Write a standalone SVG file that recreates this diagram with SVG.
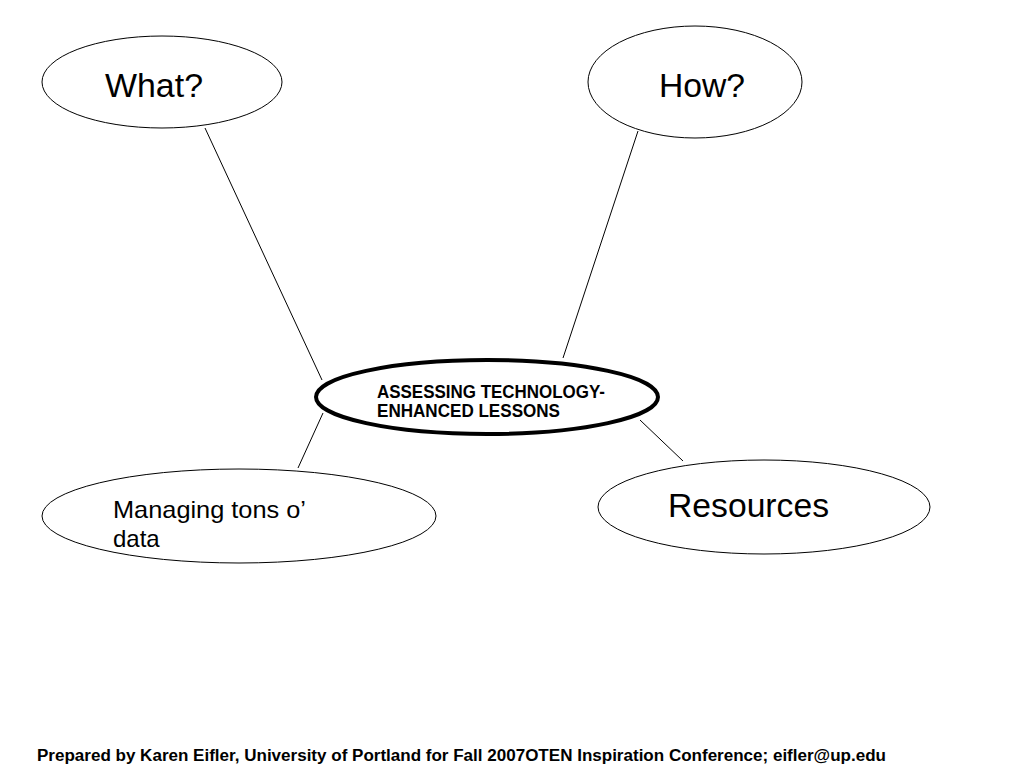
<svg xmlns="http://www.w3.org/2000/svg" width="1024" height="768" viewBox="0 0 1024 768">
<style>
.node{fill:#fff;stroke:#000;stroke-width:1}
.main{fill:#fff;stroke:#000;stroke-width:4}
.t{font-family:"Liberation Sans",Arial,sans-serif;fill:#000}
.c line{stroke:#000;stroke-width:1}
</style>
<rect width="1024" height="768" fill="#fff"/>
<g class="c" id="connectors">
<line x1="205" y1="128" x2="322" y2="380"/>
<line x1="638" y1="131" x2="563" y2="358"/>
<line x1="323" y1="413" x2="298" y2="468"/>
<line x1="640" y1="420" x2="683" y2="461"/>
</g>
<g id="what">
<ellipse class="node" cx="162" cy="82" rx="120" ry="46"/>
<text class="t" x="105" y="97" font-size="33" textLength="98" lengthAdjust="spacingAndGlyphs">What?</text>
</g>
<g id="how">
<ellipse class="node" cx="695" cy="82" rx="107" ry="56"/>
<text class="t" x="659" y="97" font-size="33" textLength="86" lengthAdjust="spacingAndGlyphs">How?</text>
</g>
<g id="central">
<ellipse class="main" cx="487" cy="397" rx="171" ry="37"/>
<text class="t" x="377" y="398" font-size="17.5" font-weight="bold" textLength="228" lengthAdjust="spacingAndGlyphs">ASSESSING TECHNOLOGY-</text>
<text class="t" x="377" y="417" font-size="17.5" font-weight="bold" textLength="183" lengthAdjust="spacingAndGlyphs">ENHANCED LESSONS</text>
</g>
<g id="managing">
<ellipse class="node" cx="239" cy="516" rx="197" ry="47"/>
<text class="t" x="113" y="518" font-size="24" textLength="193" lengthAdjust="spacingAndGlyphs">Managing tons o’</text>
<text class="t" x="113" y="547" font-size="24">data</text>
</g>
<g id="resources">
<ellipse class="node" cx="764" cy="507" rx="166" ry="47"/>
<text class="t" x="668" y="517" font-size="33" textLength="161" lengthAdjust="spacingAndGlyphs">Resources</text>
</g>
<text class="t" x="37" y="761" font-size="16" font-weight="bold" textLength="849" lengthAdjust="spacingAndGlyphs">Prepared by Karen Eifler, University of Portland for Fall 2007OTEN Inspiration Conference; eifler@up.edu</text>
</svg>
